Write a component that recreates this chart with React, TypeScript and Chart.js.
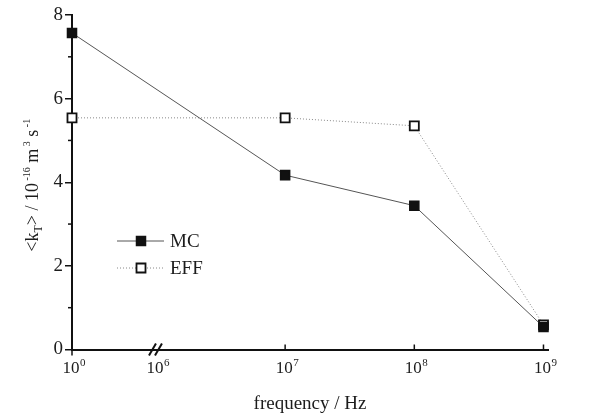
import { useEffect, useRef } from 'react';
import { Chart, registerables } from 'chart.js';

Chart.register(...registerables);

// ---- data ----
const frequencyExponents = [0, 7, 8, 9]; // frequency = 10^e Hz
const mcValues = [7.57, 4.17, 3.44, 0.54];
const effValues = [5.54, 5.54, 5.35, 0.59];
const xTickExponents = [0, 6, 7, 8, 9];
const yMajorTicks = [0, 2, 4, 6, 8];
const yMinorTicks = [1, 3, 5, 7];
const seriesNames = ['MC', 'EFF'];

// broken axis: 10^0 .. 10^6 compressed
const BREAK_AT = 6;
const PRE_BREAK_SPAN = 0.65;
const axisPos = (e: number) =>
  e <= BREAK_AT ? (e * PRE_BREAK_SPAN) / BREAK_AT : PRE_BREAK_SPAN + (e - BREAK_AT);

const FONT = '"Liberation Serif", "Times New Roman", serif';
const font = (px: number) => `${px}px ${FONT}`;
const TEXT = '#1c1c1c';

const decorPlugin = {
  id: 'decor',
  afterDraw(chart: any) {
    const ctx = chart.ctx as CanvasRenderingContext2D;
    const xs = chart.scales.x;
    const ys = chart.scales.y;
    const ca = chart.chartArea;
    ctx.save();
    ctx.strokeStyle = '#111';
    ctx.lineWidth = 1.5;
    // y minor ticks (outward)
    for (const v of yMinorTicks) {
      const py = ys.getPixelForValue(v);
      ctx.beginPath();
      ctx.moveTo(ca.left - 4, py);
      ctx.lineTo(ca.left, py);
      ctx.stroke();
    }
    // y axis extends below origin
    ctx.beginPath();
    ctx.moveTo(ca.left, ca.bottom);
    ctx.lineTo(ca.left, ca.bottom + 6);
    ctx.stroke();
    // x ticks (inward) after break
    for (const e of xTickExponents) {
      if (e <= BREAK_AT) continue;
      const px = xs.getPixelForValue(axisPos(e));
      ctx.beginPath();
      ctx.moveTo(px, ca.bottom);
      ctx.lineTo(px, ca.bottom - 5);
      ctx.stroke();
    }
    // break marks
    const bx = xs.getPixelForValue(axisPos(BREAK_AT));
    ctx.lineWidth = 2;
    for (const off of [-3, 3]) {
      ctx.beginPath();
      ctx.moveTo(bx + off - 4, ca.bottom + 6);
      ctx.lineTo(bx + off + 3, ca.bottom - 6);
      ctx.stroke();
    }

    // x tick labels: 10 with superscript exponent
    ctx.fillStyle = TEXT;
    ctx.textBaseline = 'alphabetic';
    ctx.textAlign = 'left';
    for (const e of xTickExponents) {
      const px = xs.getPixelForValue(axisPos(e));
      ctx.font = font(17);
      const w10 = ctx.measureText('10').width;
      const x0 = px - w10 / 2 - 1;
      ctx.fillText('10', x0, 373);
      ctx.font = font(11);
      ctx.fillText(String(e), x0 + w10 + 0.5, 366);
    }

    // legend
    const legendRows = [241, 268];
    chart.data.datasets.forEach((ds: any, i: number) => {
      const y = legendRows[i];
      ctx.save();
      ctx.strokeStyle = ds.borderColor;
      ctx.lineWidth = ds.borderWidth;
      ctx.setLineDash(ds.borderDash || []);
      ctx.beginPath();
      ctx.moveTo(117, y);
      ctx.lineTo(164, y);
      ctx.stroke();
      ctx.restore();
      ctx.fillStyle = ds.pointBackgroundColor;
      ctx.strokeStyle = ds.pointBorderColor;
      ctx.lineWidth = ds.pointBorderWidth;
      ctx.beginPath();
      ctx.rect(136.5, y - 4.5, 9, 9);
      ctx.fill();
      ctx.stroke();
      ctx.fillStyle = TEXT;
      ctx.font = font(19);
      ctx.textBaseline = 'middle';
      ctx.textAlign = 'left';
      ctx.fillText(ds.label, 170, y + 1);
    });

    // y-axis title with sub/superscripts
    const parts = [
      { t: '<k', s: 18, dy: 0 },
      { t: 'T', s: 12, dy: 4 },
      { t: '> / 10', s: 18, dy: 0 },
      { t: ' -16', s: 10, dy: -8 },
      { t: ' m', s: 18, dy: 0 },
      { t: ' 3', s: 10, dy: -8 },
      { t: ' s', s: 18, dy: 0 },
      { t: ' -1', s: 10, dy: -8 },
    ];
    let total = 0;
    for (const p of parts) {
      ctx.font = font(p.s);
      total += ctx.measureText(p.t).width;
    }
    ctx.translate(38, (ca.top + ca.bottom) / 2 + 3);
    ctx.rotate(-Math.PI / 2);
    ctx.fillStyle = TEXT;
    ctx.textBaseline = 'alphabetic';
    ctx.textAlign = 'left';
    let x = -total / 2;
    for (const p of parts) {
      ctx.font = font(p.s);
      ctx.fillText(p.t, x, p.dy);
      x += ctx.measureText(p.t).width;
    }
    ctx.restore();
  },
};

export default function App() {
  const ref = useRef<HTMLCanvasElement>(null);
  useEffect(() => {
    document.body.style.margin = '0';
    const xData = frequencyExponents.map(axisPos);
    const chart = new Chart(ref.current!, {
      type: 'line',
      data: {
        datasets: [
          {
            label: seriesNames[0],
            data: xData.map((x, i) => ({ x, y: mcValues[i] })),
            borderColor: '#555',
            borderWidth: 1,
            pointStyle: 'rect',
            pointRadius: 6.4,
            pointBackgroundColor: '#111',
            pointBorderColor: '#111',
            pointBorderWidth: 1.5,
            clip: false,
          },
          {
            label: seriesNames[1],
            data: xData.map((x, i) => ({ x, y: effValues[i] })),
            borderColor: '#888',
            borderWidth: 1,
            borderDash: [1, 2],
            pointStyle: 'rect',
            pointRadius: 6.4,
            pointBackgroundColor: '#fff',
            pointBorderColor: '#111',
            pointBorderWidth: 1.8,
            clip: false,
          },
        ] as any,
      },
      options: {
        responsive: false,
        maintainAspectRatio: false,
        animation: false,
        layout: { padding: { top: 15, right: 51, left: 0, bottom: 0 } },
        plugins: { legend: { display: false }, tooltip: { enabled: false }, title: { display: false } },
        scales: {
          x: {
            type: 'linear',
            min: 0,
            max: axisPos(9) + 0.035,
            afterBuildTicks: (scale: any) => {
              scale.ticks = xTickExponents.map((e) => ({ value: axisPos(e) }));
            },
            afterFit: (scale: any) => {
              scale.height = 65.5;
            },
            grid: { display: true, drawOnChartArea: false, drawTicks: false },
            border: { display: true, color: '#111', width: 2 },
            ticks: { display: false },
            title: {
              display: true,
              text: 'frequency / Hz',
              color: TEXT,
              font: { family: FONT, size: 19 },
              padding: { top: 6, bottom: 0 },
            },
          },
          y: {
            type: 'linear',
            min: 0,
            max: 8,
            afterBuildTicks: (scale: any) => {
              scale.ticks = yMajorTicks.map((v) => ({ value: v }));
            },
            afterFit: (scale: any) => {
              scale.width = 72;
            },
            grid: { display: true, drawOnChartArea: false, drawTicks: true, tickLength: 7, color: '#111', lineWidth: 1.5 },
            border: { display: true, color: '#111', width: 2 },
            ticks: {
              padding: 2,
              color: TEXT,
              font: { family: FONT, size: 19 },
              callback: (v: any) => String(v),
            },
          },
        },
      },
      plugins: [decorPlugin],
    });
    return () => chart.destroy();
  }, []);
  return (
    <div style={{ position: 'absolute', left: 0, top: 0, width: 599, height: 415 }}>
      <canvas ref={ref} width={599} height={415} />
    </div>
  );
}
